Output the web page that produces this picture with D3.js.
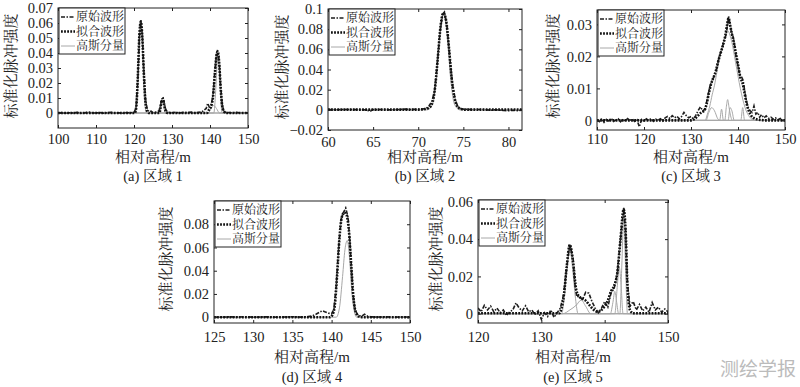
<!DOCTYPE html>
<html>
<head>
<meta charset="utf-8">
<script src="https://cdn.jsdelivr.net/npm/d3@7"></script>
<style>
  body { margin: 0; background: #fff; }
  svg { display: block; }
</style>
</head>
<body>
<script>
// five lidar waveform panels: original, fitted and gaussian components

const width = 800, height = 387;

// ---- panel (a) 区域 1
const aOrig = [[100,0],[101,0.0003],[102,-0.0002],[103,0.0002],[104,0],[105,0.0004],[106,-0.0002],[107,0.0001],[108,0.0006],[109,0.0002],[110,0],[111,0.0003],[112,-0.0001],[113,0.0002],[114,0.0005],[115,0],[116,0.0002],[117,-0.0002],[118,0.0003],[119,0.0001],[120,0.0005],[120.5,0.003],[121,0.022],[121.4,0.05],[121.8,0.062],[122.2,0.052],[122.6,0.028],[123,0.01],[123.5,0.002],[124,0.0008],[124.5,0.0012],[125,0.0003],[126,0.0006],[126.6,0.0015],[127,0.006],[127.4,0.0095],[127.7,0.01],[128,0.006],[128.4,0.002],[129,0.0004],[130,0.0002],[131,0.0005],[132,0],[133,0.0004],[134,0.0002],[135,0.0006],[136,0.0001],[137,0.0004],[138,0.001],[139,0.003],[139.4,0.0065],[139.8,0.004],[140.3,0.005],[140.8,0.012],[141.3,0.028],[141.7,0.039],[142,0.042],[142.4,0.035],[142.8,0.018],[143.2,0.006],[143.6,0.0015],[144,0.0005],[145,0.0003],[146,0.0001],[147,0.0004],[148,0],[149,0.0002],[150,0.0001]];
const aFit = [[100,0],[120.2,0],[120.6,0.004],[121,0.024],[121.4,0.051],[121.8,0.061],[122.2,0.05],[122.6,0.026],[123,0.008],[123.5,0.001],[124,0],[126.7,0],[127,0.004],[127.3,0.0085],[127.6,0.0095],[127.9,0.006],[128.3,0.0015],[128.8,0],[139.2,0],[139.7,0.002],[140.3,0.0045],[140.8,0.011],[141.3,0.027],[141.7,0.038],[142,0.041],[142.4,0.034],[142.8,0.017],[143.2,0.005],[143.7,0.001],[144.2,0],[150,0]];
const aGauss = [
  [[100,0],[120.3,0],[120.8,0.008],[121.2,0.03],[121.5,0.052],[121.8,0.06],[122.1,0.052],[122.4,0.03],[122.8,0.008],[123.3,0],[150,0]],
  [[100,0],[126.8,0],[127.2,0.005],[127.5,0.008],[127.8,0.005],[128.2,0],[150,0]],
  [[100,0],[139.5,0],[140.3,0.003],[141,0.005],[141.7,0.003],[142.5,0],[150,0]],
  [[100,0],[141,0],[141.5,0.015],[141.8,0.03],[142.1,0.037],[142.4,0.03],[142.7,0.015],[143.2,0],[150,0]]
];

// ---- panel (b) 区域 2
const bOrig = [[60,0.0003],[61,0.0001],[62,0.0004],[63,0.0002],[64,0.0001],[64.7,-0.0012],[65,0.0002],[66,0.0003],[67,0],[68,0.0004],[68.5,0.0007],[69,0.0003],[70,0.0006],[70.5,0.0008],[70.9,0.0015],[71.2,0.004],[71.5,0.008],[71.8,0.018],[72.1,0.045],[72.4,0.076],[72.7,0.095],[72.9,0.097],[73.2,0.082],[73.5,0.052],[73.8,0.025],[74.1,0.01],[74.4,0.003],[74.8,0.0008],[75.5,0.0005],[76,0.0002],[77,0.0004],[78,-0.0004],[78.5,0.0001],[79,-0.0003],[79.5,-0.0006],[80,-0.0009],[80.5,-0.0004],[81,-0.0008],[81.5,-0.0003]];
const bFit = [[60,0.0002],[70,0.0002],[70.8,0.0008],[71.2,0.002],[71.6,0.008],[71.9,0.025],[72.2,0.055],[72.5,0.085],[72.8,0.096],[73.1,0.088],[73.4,0.062],[73.7,0.032],[74,0.013],[74.3,0.004],[74.7,0.001],[75.2,0.0002],[81.5,0.0002]];
const bGauss = [
  [[60,0],[71,0],[71.6,0.006],[72,0.03],[72.4,0.075],[72.8,0.095],[73.2,0.075],[73.6,0.03],[74,0.006],[74.6,0],[81.5,0]]
];

// ---- panel (c) 区域 3
const cOrig = [[110,0.0002],[110.5,-0.0004],[111,0.0006],[111.5,-0.0006],[112,0.0003],[112.5,-0.0002],[113,0.0007],[113.5,-0.0003],[114,0.0001],[114.5,0.0005],[115,-0.0004],[115.5,0.0004],[116,-0.0002],[116.5,0.0006],[117,0],[117.5,0.0004],[118,-0.0003],[118.5,0.0002],[119,-0.002],[119.5,0.0003],[120,-0.0002],[120.5,0.0005],[121,0],[121.5,0.0006],[122,-0.0003],[122.5,0.0004],[123,0.0001],[123.5,0.0005],[124,-0.0002],[124.5,0.0008],[125,0.0012],[125.5,0.0006],[126,0.0015],[126.5,0.0008],[127,0.0013],[127.5,0.0005],[128,0.0012],[128.5,0.0025],[129,0.0015],[129.5,0.0008],[130,0.0012],[130.5,0.0005],[131,0.0015],[131.5,0.003],[132,0.0042],[132.5,0.003],[133,0.0035],[133.5,0.007],[134,0.0105],[134.5,0.0125],[135,0.014],[135.5,0.0165],[136,0.02],[136.5,0.022],[137,0.0245],[137.5,0.027],[138,0.0325],[138.3,0.03],[138.6,0.0275],[139,0.026],[139.3,0.023],[139.6,0.02],[140,0.017],[140.4,0.014],[140.8,0.0135],[141.1,0.0125],[141.4,0.0095],[141.8,0.006],[142.2,0.0038],[142.6,0.003],[143,0.0025],[143.4,0.0045],[143.8,0.002],[144.2,0.0025],[144.6,0.001],[145,0.0018],[145.5,0.0008],[146,0.0014],[146.5,0.0006],[147,0.001],[147.5,0.0004],[148,0.0008],[148.5,0.0002],[149,0.0006],[149.5,0.0001],[150,0.0003]];
const cFit = [[110,0],[130,0],[130.8,0.0005],[131.5,0.0015],[132.2,0.0025],[132.8,0.003],[133.3,0.005],[133.8,0.0085],[134.3,0.0115],[134.8,0.0135],[135.3,0.0155],[135.8,0.0185],[136.3,0.021],[136.8,0.0235],[137.3,0.0265],[137.7,0.03],[138,0.032],[138.3,0.03],[138.7,0.027],[139.1,0.0245],[139.6,0.0205],[140,0.0175],[140.5,0.0135],[141,0.0115],[141.4,0.0085],[141.8,0.0055],[142.3,0.003],[142.8,0.0015],[143.5,0.0006],[144.5,0.0002],[146,0],[150,0]];
const cGauss = [
  [[110,0],[133,0],[133.5,0.002],[134,0.0045],[134.5,0.008],[135,0.011],[135.5,0.015],[136,0.019],[137,0.025],[137.8,0.028],[138.6,0.025],[139.5,0.018],[140.5,0.01],[141.5,0.004],[142.5,0.001],[143.5,0],[150,0]],
  [[110,0],[133.2,0],[133.8,0.0025],[134.4,0.004],[135,0.003],[135.7,0.0005],[136.2,0],[150,0]],
  [[110,0],[136.1,0],[136.5,0.0035],[136.9,0],[150,0]],
  [[110,0],[137.2,0],[137.5,0.004],[137.8,0.0065],[138.1,0.004],[138.5,0.001],[138.8,0],[150,0]],
  [[110,0],[137.9,0],[138.3,0.004],[138.7,0.003],[139.2,0],[150,0]],
  [[110,0],[140.6,0],[141,0.004],[141.4,0],[150,0]]
];

// ---- panel (d) 区域 4
const dOrig = [[125,0.0002],[126,0],[127,0.0003],[128,0.0001],[129,0.0004],[130,0],[131,0.0002],[132,0.0003],[133,0],[134,0.0002],[135,0.0004],[136,0.0001],[137,0.0005],[137.5,0.001],[138,0.0025],[138.4,0.004],[138.8,0.0055],[139.2,0.0045],[139.6,0.0035],[140,0.003],[140.3,0.007],[140.6,0.028],[140.9,0.06],[141.2,0.084],[141.5,0.09],[141.8,0.094],[142.1,0.086],[142.4,0.058],[142.7,0.022],[143,0.006],[143.4,0.0015],[143.8,0.0008],[144.2,0.0025],[144.6,0.0008],[145,0.0003],[146,0.0001],[147,0.0003],[148,0],[149,0.0002],[150,0.0001]];
const dFit = [[125,0],[139.8,0],[140.1,0.002],[140.4,0.01],[140.7,0.036],[141,0.068],[141.3,0.086],[141.6,0.09],[141.9,0.088],[142.2,0.075],[142.5,0.045],[142.8,0.016],[143.1,0.004],[143.5,0.0005],[144,0],[150,0]];
const dGauss = [
  [[125,0],[140.6,0],[141,0.008],[141.4,0.035],[141.7,0.058],[142,0.066],[142.3,0.05],[142.6,0.02],[142.9,0.005],[143.2,0],[150,0]]
];

// ---- panel (e) 区域 5
const eOrig = [[120,0.003],[120.5,0.001],[121,0.0045],[121.5,0.002],[122,0.004],[122.5,0.001],[123,0.003],[123.5,0.0005],[124,0.002],[124.5,-0.001],[125,0.001],[125.5,0.002],[126,0.0058],[126.5,0.003],[127,0.0015],[127.5,0.0042],[128,0.001],[128.5,0.002],[129,-0.0005],[129.5,0.0015],[130,-0.003],[130.5,0.0005],[131,-0.0015],[131.5,0.002],[132,-0.002],[132.5,0.0005],[133,0.003],[133.5,0.01],[134,0.025],[134.5,0.037],[135,0.03],[135.3,0.016],[135.6,0.009],[136,0.0095],[136.5,0.0075],[137,0.0115],[137.5,0.011],[138,0.0065],[138.5,0.003],[139,0.0005],[139.5,0.003],[140,0.0065],[140.5,0.0035],[141,0.011],[141.5,0.0135],[142,0.022],[142.5,0.04],[143,0.057],[143.3,0.045],[143.6,0.016],[144,0.004],[144.5,0.0065],[145,0.002],[145.5,0.005],[146,0.0015],[146.5,0.0035],[147,0.0008],[147.5,0.006],[148,0.002],[148.5,0.0035],[149,0.0008],[149.5,0.0025],[150,0.001]];
const eFit = [[120,0.0002],[132.8,0.0002],[133.2,0.003],[133.6,0.011],[134,0.025],[134.5,0.037],[135,0.028],[135.5,0.013],[136,0.009],[136.5,0.008],[137,0.007],[137.5,0.005],[138,0.003],[138.5,0.0015],[139,0.001],[139.5,0.002],[140,0.004],[140.5,0.007],[141,0.012],[141.5,0.015],[142,0.022],[142.5,0.04],[143,0.056],[143.3,0.045],[143.6,0.015],[144,0.002],[144.5,0.0002],[150,0.0002]];
const eGauss = [
  [[120,0],[133.2,0],[133.6,0.008],[134,0.022],[134.5,0.035],[135,0.022],[135.4,0.008],[135.8,0],[150,0]],
  [[120,0],[133.4,0],[134.5,0.002],[135.5,0.0045],[136.3,0.0073],[137,0.004],[137.8,0],[150,0]],
  [[120,0],[140.9,0],[141.3,0.006],[141.6,0.012],[141.9,0.006],[142.2,0],[150,0]],
  [[120,0],[141.6,0],[142,0.015],[142.3,0.025],[142.6,0.015],[142.9,0],[150,0]],
  [[120,0],[142.4,0],[142.7,0.025],[143,0.05],[143.3,0.025],[143.6,0],[150,0]]
];

// tick values
const aXTicks = [100,110,120,130,140,150], aYTicks = [0,0.01,0.02,0.03,0.04,0.05,0.06,0.07];
const bXTicks = [60,65,70,75,80],          bYTicks = [-0.02,0,0.02,0.04,0.06,0.08,0.1];
const cXTicks = [110,120,130,140,150],     cYTicks = [0,0.01,0.02,0.03];
const dXTicks = [125,130,135,140,145,150], dYTicks = [0,0.02,0.04,0.06,0.08];
const eXTicks = [120,130,140,150],         eYTicks = [0,0.02,0.04,0.06];

const legendNames = ["原始波形", "拟合波形", "高斯分量"];
const xTitle = "相对高程/m";
const yTitle = "标准化脉冲强度";

const latin = "'Liberation Serif', 'Times New Roman', 'Noto Serif CJK SC', 'Noto Sans CJK SC', serif";

const panels = [
  {orig: aOrig, fit: aFit, gauss: aGauss, xt: aXTicks, yt: aYTicks, xd: [100,150], yd: [-0.01,0.07],
   left: 58, top: 8, w: 190, h: 120, ylx: 11, yly: 66, tickBase: 144, titleBase: 162, capBase: 181, cap: "(a) 区域 1"},
  {orig: bOrig, fit: bFit, gauss: bGauss, xt: bXTicks, yt: bYTicks, xd: [60,81.5], yd: [-0.02,0.1],
   left: 328, top: 9, w: 194, h: 121, ylx: 282, yly: 67, tickBase: 147, titleBase: 162, capBase: 181, cap: "(b) 区域 2"},
  {orig: cOrig, fit: cFit, gauss: cGauss, xt: cXTicks, yt: cYTicks, xd: [110,150], yd: [-0.003,0.0345],
   left: 597, top: 10, w: 188, h: 120, ylx: 553, yly: 66, tickBase: 144, titleBase: 162, capBase: 181, cap: "(c) 区域 3"},
  {orig: dOrig, fit: dFit, gauss: dGauss, xt: dXTicks, yt: dYTicks, xd: [125,150], yd: [-0.005,0.1],
   left: 214, top: 201, w: 196, h: 122, ylx: 166, yly: 259, tickBase: 342, titleBase: 362, capBase: 382, cap: "(d) 区域 4"},
  {orig: eOrig, fit: eFit, gauss: eGauss, xt: eXTicks, yt: eYTicks, xd: [120,150], yd: [-0.005,0.061],
   left: 478, top: 200, w: 190, h: 123, ylx: 436, yly: 259, tickBase: 342, titleBase: 362, capBase: 382, cap: "(e) 区域 5"}
];

const svg = d3.select("body").append("svg")
  .attr("width", width)
  .attr("height", height);

const yFmt = d => d === 0 ? "0" : d3.format("~g")(d);

panels.forEach((p, i) => {
  const x = d3.scaleLinear().domain(p.xd).range([0, p.w]);
  const y = d3.scaleLinear().domain(p.yd).range([p.h, 0]);

  const g = svg.append("g").attr("transform", `translate(${p.left},${p.top})`);

  const clipId = "clip" + i;
  g.append("clipPath").attr("id", clipId)
    .append("rect").attr("width", p.w).attr("height", p.h);

  const plot = g.append("g").attr("clip-path", `url(#${clipId})`);
  const line = d3.line().x(d => x(d[0])).y(d => y(d[1]));
  const smooth = d3.line().x(d => x(d[0])).y(d => y(d[1])).curve(d3.curveMonotoneX);

  // gaussian components
  plot.selectAll(".gauss").data(p.gauss).join("path")
    .attr("class", "gauss")
    .attr("d", smooth)
    .attr("fill", "none")
    .attr("stroke", "#a8a8a8")
    .attr("stroke-width", 1);

  // original waveform
  plot.append("path")
    .datum(p.orig)
    .attr("d", line)
    .attr("fill", "none")
    .attr("stroke", "#1e1e1e")
    .attr("stroke-width", 1.6)
    .attr("stroke-dasharray", "4,1.5,1.5,1.5");

  // fitted waveform
  plot.append("path")
    .datum(p.fit)
    .attr("d", smooth)
    .attr("fill", "none")
    .attr("stroke", "#111")
    .attr("stroke-width", 2.6)
    .attr("stroke-dasharray", "1.8,1.3");

  // axes, ticks inward on all sides
  const xb = g.append("g").attr("transform", `translate(0,${p.h})`)
    .call(d3.axisBottom(x).tickValues(p.xt).tickSizeInner(-3).tickSizeOuter(0).tickPadding(0).tickFormat(d3.format("d")));
  xb.selectAll("text").attr("y", p.tickBase - p.top - p.h).attr("dy", 0);
  g.append("g").call(d3.axisTop(x).tickValues(p.xt).tickSizeInner(-3).tickSizeOuter(0).tickFormat(""));
  g.append("g").call(d3.axisLeft(y).tickValues(p.yt).tickSizeInner(-3).tickSizeOuter(0).tickPadding(5).tickFormat(yFmt));
  g.append("g").attr("transform", `translate(${p.w},0)`)
    .call(d3.axisRight(y).tickValues(p.yt).tickSizeInner(-3).tickSizeOuter(0).tickFormat(""));

  g.selectAll(".domain").remove();
  g.selectAll(".tick line").attr("stroke", "#222");
  g.selectAll(".tick text")
    .style("font-family", latin)
    .style("font-size", "14.5px")
    .attr("fill", "#222");

  g.append("rect")
    .attr("width", p.w).attr("height", p.h)
    .attr("fill", "none").attr("stroke", "#222").attr("stroke-width", 1);

  // legend
  const lg = g.append("g").attr("transform", "translate(1,0)");
  lg.append("rect").attr("width", 66).attr("height", 46)
    .attr("fill", "#fff").attr("stroke", "#222").attr("stroke-width", 1);
  const styles = [
    {stroke: "#1e1e1e", w: 1.6, dash: "4,1.5,1.5,1.5"},
    {stroke: "#111", w: 2.6, dash: "1.8,1.3"},
    {stroke: "#a8a8a8", w: 1, dash: null}
  ];
  legendNames.forEach((name, k) => {
    const cy = 9 + k * 14.5;
    lg.append("line").attr("x1", 2).attr("x2", 16).attr("y1", cy).attr("y2", cy)
      .attr("stroke", styles[k].stroke).attr("stroke-width", styles[k].w)
      .attr("stroke-dasharray", styles[k].dash);
    lg.append("text").attr("x", 17).attr("y", cy).attr("dy", "0.35em")
      .style("font-family", latin).style("font-size", "12px").attr("fill", "#222")
      .text(name);
  });

  // titles
  svg.append("text")
    .attr("x", p.left + p.w / 2).attr("y", p.titleBase)
    .attr("text-anchor", "middle")
    .style("font-family", latin).style("font-size", "15px").attr("fill", "#222")
    .text(xTitle);
  svg.append("text")
    .attr("x", p.left + p.w / 2).attr("y", p.capBase)
    .attr("text-anchor", "middle")
    .style("font-family", latin).style("font-size", "14.5px").attr("fill", "#222")
    .text(p.cap);
  svg.append("text")
    .attr("transform", `translate(${p.ylx},${p.yly}) rotate(-90)`)
    .attr("text-anchor", "middle").attr("dy", "0.35em")
    .style("font-family", latin).style("font-size", "15px").attr("fill", "#222")
    .text(yTitle);
});

// journal watermark
svg.append("text")
  .attr("x", 796).attr("y", 376)
  .attr("text-anchor", "end")
  .style("font-family", "'Noto Sans CJK SC', sans-serif")
  .style("font-size", "19px")
  .attr("fill", "#bbb")
  .text("测绘学报");
</script>
</body>
</html>
